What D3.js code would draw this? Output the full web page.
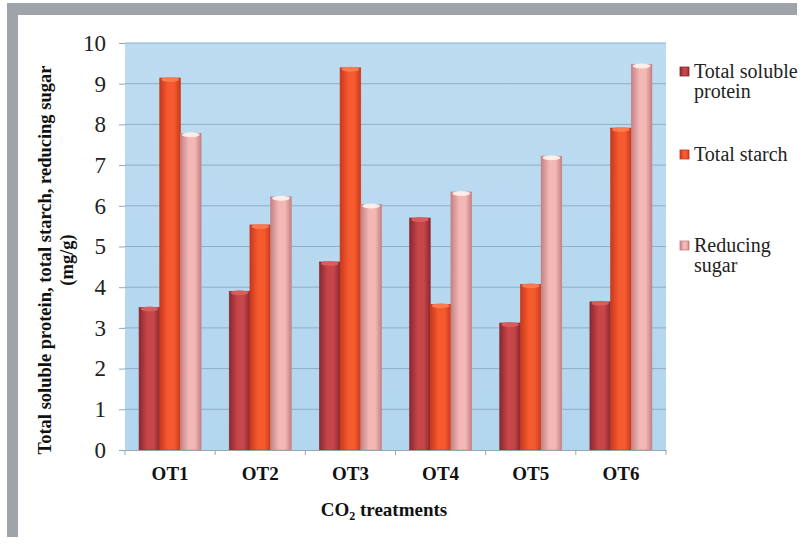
<!DOCTYPE html>
<html>
<head>
<meta charset="utf-8">
<script src="https://cdn.jsdelivr.net/npm/d3@7"></script>
<style>
  html, body { margin: 0; padding: 0; background: #ffffff; }
  svg { display: block; }
</style>
</head>
<body>
<svg id="chart" width="800" height="544"></svg>
<script>
// CO2 treatments and measured contents (mg/g)
const categories = ["OT1", "OT2", "OT3", "OT4", "OT5", "OT6"];
const seriesNames = ["Total soluble protein", "Total starch", "Reducing sugar"];
const proteinValues = [3.5, 3.9, 4.62, 5.7, 3.12, 3.64];
const starchValues = [9.14, 5.53, 9.39, 3.58, 4.07, 7.91];
const sugarValues = [7.78, 6.22, 6.03, 6.34, 7.22, 9.47];
const yTicks = [0, 1, 2, 3, 4, 5, 6, 7, 8, 9, 10];
const legendLines = [["Total soluble", "protein"], ["Total starch"], ["Reducing", "sugar"]];

const SERIF = "'Liberation Serif', 'Times New Roman', serif";

const seriesValues = [proteinValues, starchValues, sugarValues];
const rows = categories.map((c, i) => ({
  category: c,
  values: seriesNames.map((s, k) => ({ series: s, k, value: seriesValues[k][i] }))
}));

const svg = d3.select("#chart");
const plot = { left: 125, right: 666, top: 43, bottom: 450 };

// grey frame strips (top and left)
svg.append("rect").attr("x", 7).attr("y", 3).attr("width", 790).attr("height", 12).attr("fill", "#9fa3aa");
svg.append("rect").attr("x", 7).attr("y", 3).attr("width", 11).attr("height", 534).attr("fill", "#9fa3aa");

const x0 = d3.scaleBand().domain(categories).range([plot.left, plot.right]).padding(0);
const x1 = d3.scaleBand().domain(seriesNames).range([0, x0.bandwidth()]).paddingInner(0).paddingOuter(0.68);
const y = d3.scaleLinear().domain([0, 10]).range([plot.bottom, plot.top]);

const defs = svg.append("defs");
const palettes = [
  { edge: "#8a2830", mid: "#c6464a", cap: "#d9615f" },
  { edge: "#c7381b", mid: "#f65a2f", cap: "#ff7d52" },
  { edge: "#c58083", mid: "#f3b8b5", cap: "#fff4f0" }
];
palettes.forEach((p, k) => {
  const g = defs.append("linearGradient").attr("id", "bar" + k).attr("x1", "0").attr("x2", "1").attr("y1", "0").attr("y2", "0");
  g.append("stop").attr("offset", "0").attr("stop-color", p.edge);
  g.append("stop").attr("offset", "0.4").attr("stop-color", p.mid);
  g.append("stop").attr("offset", "0.7").attr("stop-color", p.mid);
  g.append("stop").attr("offset", "1").attr("stop-color", p.edge);
});
const bgGrad = defs.append("linearGradient").attr("id", "plotbg").attr("x1", "0").attr("x2", "0").attr("y1", "0").attr("y2", "1");
bgGrad.append("stop").attr("offset", "0").attr("stop-color", "#bddcf1");
bgGrad.append("stop").attr("offset", "1").attr("stop-color", "#b2d6ee");

// plot background
svg.append("rect").attr("x", plot.left).attr("y", plot.top)
  .attr("width", plot.right - plot.left).attr("height", plot.bottom - plot.top)
  .attr("fill", "url(#plotbg)");

// gridlines and y axis
const yAxis = d3.axisLeft(y).tickValues(yTicks).tickSize(6).tickPadding(13).tickFormat(d3.format("d"));
const yg = svg.append("g").attr("transform", `translate(${plot.left},0)`).call(yAxis)
  .attr("font-family", SERIF).attr("font-size", 23);
yg.select(".domain").remove();
yg.selectAll(".tick line").attr("stroke", "#8aa8bd").attr("stroke-width", 1);
yg.selectAll(".tick text").attr("fill", "#222");
svg.append("g").selectAll("line").data(yTicks.filter(d => d > 0)).join("line")
  .attr("x1", plot.left).attr("x2", plot.right)
  .attr("y1", d => y(d)).attr("y2", d => y(d))
  .attr("stroke", "#8eaec6").attr("stroke-width", 1);

// bars with a lit cap on top
const groups = svg.append("g").selectAll("g").data(rows).join("g")
  .attr("transform", d => `translate(${x0(d.category)},0)`);
groups.selectAll("rect").data(d => d.values).join("rect")
  .attr("x", d => x1(d.series))
  .attr("y", d => y(d.value))
  .attr("width", x1.bandwidth())
  .attr("height", d => y(0) - y(d.value))
  .attr("fill", d => `url(#bar${d.k})`)
  .attr("stroke", d => palettes[d.k].edge)
  .attr("stroke-width", 0.6);
groups.selectAll("ellipse").data(d => d.values).join("ellipse")
  .attr("cx", d => x1(d.series) + x1.bandwidth() / 2)
  .attr("cy", d => y(d.value) + 1.5)
  .attr("rx", x1.bandwidth() / 2 - 1.5)
  .attr("ry", 2.5)
  .attr("fill", d => palettes[d.k].cap)
  .attr("opacity", 0.9);

// x axis
const xAxis = d3.axisBottom(x0).tickSize(0).tickPadding(17);
const xg = svg.append("g").attr("transform", `translate(0,${plot.bottom})`).call(xAxis)
  .attr("font-family", SERIF).attr("font-size", 19).attr("font-weight", "bold");
xg.select(".domain").attr("stroke", "#9aa6ae").attr("stroke-width", 1.2);
xg.selectAll(".tick text").attr("fill", "#111");
const boundaries = categories.map(c => x0(c)).concat([plot.right]);
svg.append("g").selectAll("line").data(boundaries).join("line")
  .attr("x1", d => d).attr("x2", d => d)
  .attr("y1", plot.bottom).attr("y2", plot.bottom + 5)
  .attr("stroke", "#9aa6ae").attr("stroke-width", 1);

// axis titles
const xt = svg.append("text").attr("x", 384).attr("y", 516).attr("text-anchor", "middle")
  .attr("font-family", SERIF).attr("font-size", 19).attr("font-weight", "bold").attr("fill", "#111");
xt.append("tspan").text("CO");
xt.append("tspan").attr("font-size", 12).attr("dy", 4).text("2");
xt.append("tspan").attr("dy", -4).text(" treatments");

const yt = svg.append("text").attr("transform", "translate(51,260) rotate(-90)")
  .attr("text-anchor", "middle").attr("font-family", SERIF)
  .attr("font-size", 18.5).attr("font-weight", "bold").attr("fill", "#111");
yt.append("tspan").attr("x", 0).attr("y", 0).text("Total soluble protein, total starch, reducing sugar");
yt.append("tspan").attr("x", 0).attr("y", 22).text("(mg/g)");

// legend
const legendTops = [78, 161, 252];
const lg = svg.append("g").selectAll("g").data(legendLines).join("g");
lg.append("rect")
  .attr("x", 680).attr("y", (d, i) => legendTops[i] - 11)
  .attr("width", 9).attr("height", 9)
  .attr("fill", (d, i) => `url(#bar${i})`)
  .attr("stroke", (d, i) => palettes[i].edge).attr("stroke-width", 0.8);
lg.append("text")
  .attr("x", 694).attr("y", (d, i) => legendTops[i])
  .attr("font-family", SERIF).attr("font-size", 20).attr("fill", "#222")
  .selectAll("tspan").data(d => d).join("tspan")
  .attr("x", 694).attr("dy", (d, j) => j === 0 ? 0 : 20)
  .text(d => d);
</script>
</body>
</html>
